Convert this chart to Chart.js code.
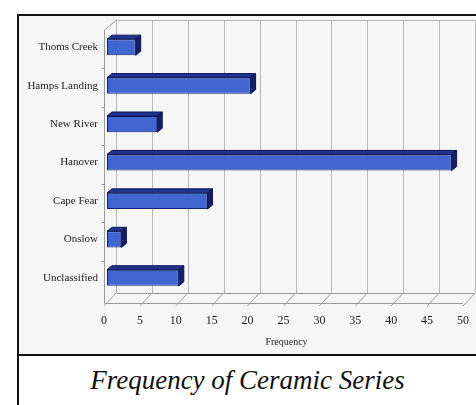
<!DOCTYPE html>
<html>
<head>
<meta charset="utf-8">
<script src="https://cdn.jsdelivr.net/npm/chart.js@4"></script>
<style>
  html, body { margin: 0; padding: 0; background: #fff; }
  body { width: 476px; height: 405px; position: relative; overflow: hidden; }
  #frame {
    position: absolute; left: 17px; top: 14px; width: 459px; height: 400px;
    border-left: 2px solid #111; border-top: 2px solid #111;
  }
  #plot { position: relative; width: 457px; height: 338px; background: #f6f6f6; border-bottom: 2px solid #111; }
  #caption {
    font-family: "Liberation Serif", "Times New Roman", serif; font-style: italic;
    font-size: 27px; color: #111; text-align: center; padding-top: 9px; padding-right: 2px;
  }
</style>
</head>
<body>
<div id="frame">
  <div id="plot"><canvas id="chart"></canvas></div>
  <div id="caption">Frequency of Ceramic Series</div>
</div>
<script>
// data
const categories = ['Thoms Creek', 'Hamps Landing', 'New River', 'Hanover', 'Cape Fear', 'Onslow', 'Unclassified'];
const frequencies = [4, 20, 7, 48, 14, 2, 10];
const xTicks = [0, 5, 10, 15, 20, 25, 30, 35, 40, 45, 50];

// depth of the walls and of the bars
const WALL_DX = 12, WALL_DY = -10;
const BAR_DX = 5, BAR_DY = -4;

// Draws the 3D walls, floor and gridlines behind the bars
const wallsPlugin = {
    id: 'walls',
    beforeDatasetsDraw(chart) {
        const { ctx, chartArea, scales } = chart;
        const xs = scales.x, ys = scales.y;
        const px = v => xs.getPixelForValue(v) - 3;
        const bFront = chartArea.bottom + 6;
        const tFront = chartArea.top + 2;
        const xMax = xTicks[xTicks.length - 1];
        ctx.save();
        ctx.lineWidth = 1;
        // back wall gridlines
        ctx.strokeStyle = '#b8b8b8';
        xTicks.forEach(v => {
            const x = Math.round(px(v) + WALL_DX) + 0.5;
            ctx.beginPath();
            ctx.moveTo(x, tFront + WALL_DY);
            ctx.lineTo(x, bFront + WALL_DY);
            ctx.stroke();
        });
        // back wall top
        ctx.beginPath();
        ctx.moveTo(px(0) + WALL_DX, tFront + WALL_DY + 0.5);
        ctx.lineTo(px(xMax) + WALL_DX + 20, tFront + WALL_DY + 0.5);
        ctx.stroke();
        // left wall
        ctx.strokeStyle = '#9a9a9a';
        const x0 = Math.round(px(0)) + 0.5;
        ctx.beginPath();
        ctx.moveTo(x0, bFront);
        ctx.lineTo(x0, tFront);
        ctx.lineTo(x0 + WALL_DX, tFront + WALL_DY);
        ctx.stroke();
        // left wall ticks between categories
        for (let i = 0; i < categories.length - 1; i++) {
            const y = Math.round((ys.getPixelForTick(i) + ys.getPixelForTick(i + 1)) / 2) + 2.5;
            ctx.beginPath();
            ctx.moveTo(x0 - 3, y);
            ctx.lineTo(x0, y);
            ctx.stroke();
        }
        // floor
        ctx.beginPath();
        ctx.moveTo(x0, Math.round(bFront) + 0.5);
        ctx.lineTo(px(xMax), Math.round(bFront) + 0.5);
        ctx.moveTo(x0 + WALL_DX, Math.round(bFront + WALL_DY) + 0.5);
        ctx.lineTo(px(xMax) + WALL_DX, Math.round(bFront + WALL_DY) + 0.5);
        ctx.stroke();
        xTicks.forEach(v => {
            ctx.beginPath();
            ctx.moveTo(px(v), bFront + 3);
            ctx.lineTo(px(v) + WALL_DX, bFront + WALL_DY);
            ctx.stroke();
        });
        ctx.restore();
    },
    // top and side faces of the bars
    afterDatasetsDraw(chart) {
        const { ctx } = chart;
        const meta = chart.getDatasetMeta(0);
        ctx.save();
        ctx.lineWidth = 1;
        ctx.strokeStyle = '#0d1550';
        meta.data.forEach(bar => {
            const left = bar.base, right = bar.x;
            const top = bar.y - bar.height / 2, bottom = bar.y + bar.height / 2;
            ctx.fillStyle = '#22338f';
            ctx.beginPath();
            ctx.moveTo(left, top);
            ctx.lineTo(left + BAR_DX, top + BAR_DY);
            ctx.lineTo(right + BAR_DX, top + BAR_DY);
            ctx.lineTo(right, top);
            ctx.closePath();
            ctx.fill();
            ctx.stroke();
            ctx.fillStyle = '#141f6a';
            ctx.beginPath();
            ctx.moveTo(right, top);
            ctx.lineTo(right + BAR_DX, top + BAR_DY);
            ctx.lineTo(right + BAR_DX, bottom + BAR_DY);
            ctx.lineTo(right, bottom);
            ctx.closePath();
            ctx.fill();
            ctx.stroke();
        });
        ctx.restore();
    }
};

new Chart(document.getElementById('chart'), {
    type: 'bar',
    data: {
        labels: categories,
        datasets: [{
            label: 'Frequency',
            data: frequencies,
            backgroundColor: '#4266d0',
            borderColor: '#16206a',
            borderWidth: 1,
            borderSkipped: false,
            categoryPercentage: 1,
            barPercentage: 0.42
        }]
    },
    options: {
        indexAxis: 'y',
        responsive: true,
        maintainAspectRatio: false,
        animation: false,
        layout: { padding: { left: 0, right: 10, top: 12, bottom: 0 } },
        plugins: { legend: { display: false }, tooltip: { enabled: false } },
        scales: {
            x: {
                min: 0,
                max: 50,
                afterBuildTicks: s => { s.ticks = xTicks.map(v => ({ value: v })); },
                grid: { display: false },
                border: { display: false },
                ticks: {
                    padding: 9,
                    labelOffset: -3,
                    color: '#222',
                    font: { family: 'Liberation Serif', size: 12 }
                },
                title: {
                    display: true,
                    text: 'Frequency',
                    color: '#222',
                    padding: { top: 2, bottom: 6 },
                    font: { family: 'Liberation Serif', size: 10 }
                },
                afterFit: s => { s.height = 57; s.paddingLeft = 0; s.paddingRight = 0; }
            },
            y: {
                grid: { display: false },
                border: { display: false },
                ticks: {
                    padding: 1,
                    color: '#222',
                    font: { family: 'Liberation Serif', size: 11 }
                },
                afterFit: s => { s.width = 88; s.paddingTop = 0; s.paddingBottom = 0; }
            }
        }
    },
    plugins: [wallsPlugin]
});
</script>
</body>
</html>
